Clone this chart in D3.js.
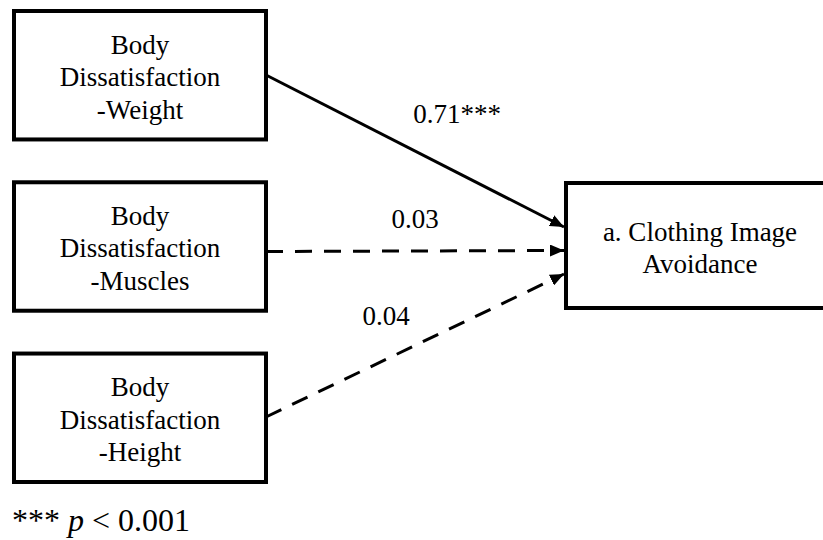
<!DOCTYPE html>
<html>
<head>
<meta charset="utf-8">
<script src="https://cdn.jsdelivr.net/npm/d3@7"></script>
<style>
  body { margin: 0; background: #fff; }
  svg { display: block; }
</style>
</head>
<body>
<script>
// ---- data ----
const predictors = [
    ['Body', 'Dissatisfaction', '-Weight'],
    ['Body', 'Dissatisfaction', '-Muscles'],
    ['Body', 'Dissatisfaction', '-Height']
]
const outcome = ['a. Clothing Image', 'Avoidance']
const coefs = ['0.71', '0.03', '0.04']
const stars = ['***', '', '']
const significant = [true, false, false]
const note = { stars: '***', p: 'p', rest: ' < 0.001' }

// ---- layout ----
const width = 823, height = 540
const fontSize = 27
const lineGap = 32.5
const serif = '"Liberation Serif"'

const svg = d3.select('body').append('svg')
    .attr('width', width)
    .attr('height', height)

svg.append('defs').append('marker')
    .attr('id', 'arrow')
    .attr('viewBox', '0 0 14 12')
    .attr('refX', 14)
    .attr('refY', 6)
    .attr('markerWidth', 14)
    .attr('markerHeight', 12)
    .attr('markerUnits', 'userSpaceOnUse')
    .attr('orient', 'auto')
    .append('path')
    .attr('d', 'M0,0 L14,6 L0,12 Z')
    .attr('fill', '#000')

// left boxes placed by a band scale
const y = d3.scaleBand()
    .domain(d3.range(predictors.length))
    .range([11, 482])
    .paddingInner(0.25)

const leftX = 14, leftW = 252
const boxH = y.bandwidth()

const target = { x: 566, y: 183, w: 270, h: 125 }

// arrows: start on right edge of predictor boxes, end on left edge of target
const startY = [75, null, 417]
const endY = d3.scalePoint()
    .domain(d3.range(predictors.length))
    .range([227, 274])

const paths = svg.append('g')
paths.selectAll('line')
    .data(predictors)
    .enter().append('line')
    .attr('x1', leftX + leftW)
    .attr('y1', (d, i) => startY[i] != null ? startY[i] : y(i) + boxH / 2 + 5)
    .attr('x2', target.x - 2)
    .attr('y2', (d, i) => endY(i))
    .attr('stroke', '#000')
    .attr('stroke-width', 3)
    .attr('stroke-dasharray', (d, i) => significant[i] ? null : '17,12')
    .attr('marker-end', 'url(#arrow)')

// coefficient labels
const labelPos = [[457, 123], [415, 228], [386, 325]]
svg.append('g').selectAll('text')
    .data(coefs)
    .enter().append('text')
    .attr('x', (d, i) => labelPos[i][0])
    .attr('y', (d, i) => labelPos[i][1])
    .attr('text-anchor', 'middle')
    .style('font-family', serif)
    .style('font-size', fontSize + 'px')
    .text((d, i) => d + stars[i])

// predictor boxes
const boxes = svg.append('g').selectAll('g')
    .data(predictors)
    .enter().append('g')
    .attr('transform', (d, i) => 'translate(' + leftX + ',' + y(i) + ')')

boxes.append('rect')
    .attr('width', leftW)
    .attr('height', boxH)
    .attr('fill', '#fff')
    .attr('stroke', '#000')
    .attr('stroke-width', 4)

boxes.selectAll('text')
    .data(d => d)
    .enter().append('text')
    .attr('x', leftW / 2)
    .attr('y', (d, j) => boxH / 2 + 11 + (j - 1) * lineGap)
    .attr('text-anchor', 'middle')
    .style('font-family', serif)
    .style('font-size', fontSize + 'px')
    .text(d => d)

// outcome box
svg.append('rect')
    .attr('x', target.x)
    .attr('y', target.y)
    .attr('width', target.w)
    .attr('height', target.h)
    .attr('fill', '#fff')
    .attr('stroke', '#000')
    .attr('stroke-width', 4)

svg.append('g').selectAll('text')
    .data(outcome)
    .enter().append('text')
    .attr('x', 700)
    .attr('y', (d, j) => target.y + target.h / 2 - 5 + j * lineGap)
    .attr('text-anchor', 'middle')
    .style('font-family', serif)
    .style('font-size', fontSize + 'px')
    .text(d => d)

// footnote
const foot = svg.append('text')
    .attr('x', 12)
    .attr('y', 531)
    .style('font-family', serif)
    .style('font-size', '32px')
foot.append('tspan').text(note.stars + ' ')
foot.append('tspan').style('font-style', 'italic').text(note.p)
foot.append('tspan').text(note.rest)
</script>
</body>
</html>
